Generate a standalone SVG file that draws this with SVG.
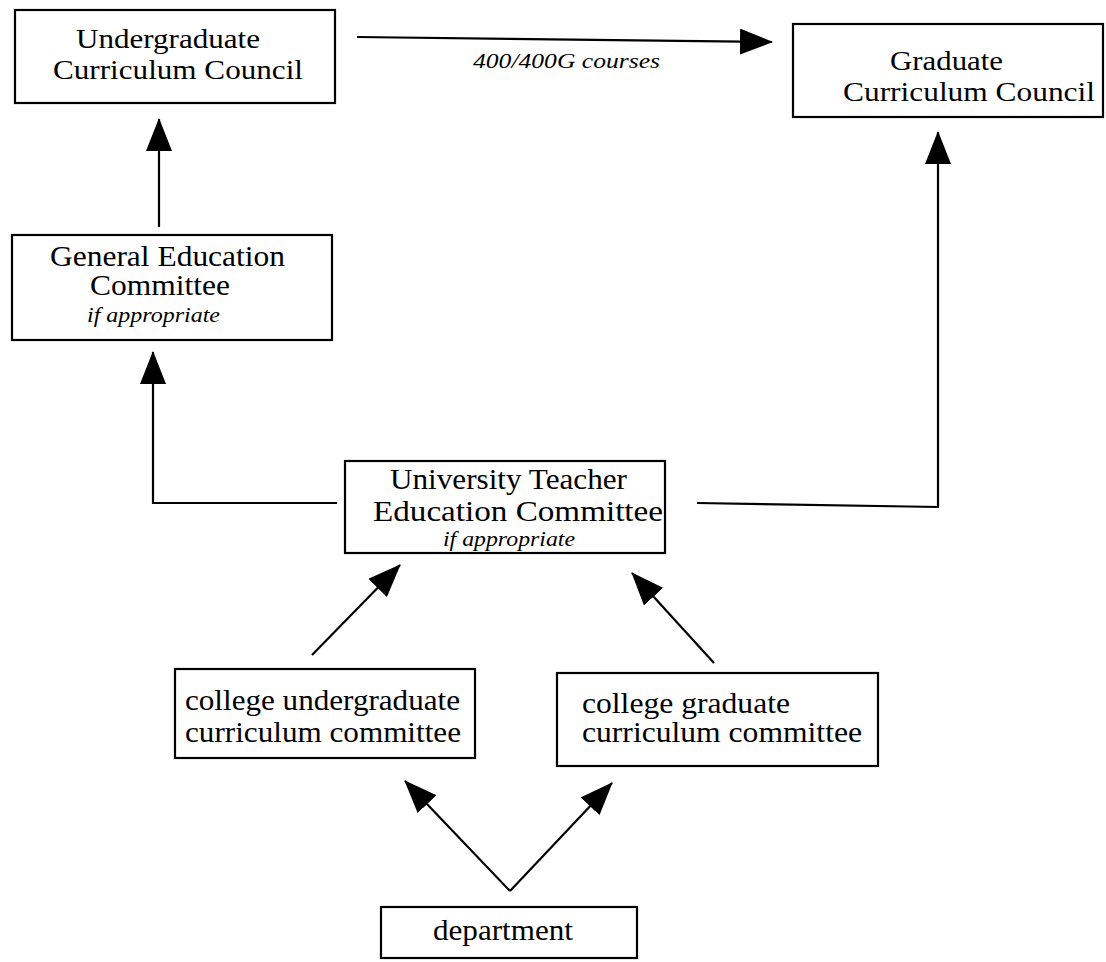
<svg xmlns="http://www.w3.org/2000/svg" width="1106" height="962" viewBox="0 0 1106 962">
<style>
.box{fill:#fff;stroke:#000;stroke-width:2.2}
.t{font-family:"Liberation Serif","Times New Roman",serif;font-size:29px;fill:#000}
.s{font-size:27px}
.i{font-family:"Liberation Serif","Times New Roman",serif;font-size:22px;font-style:italic;fill:#000}
.c{fill:none;stroke:#000;stroke-width:2.2}
</style>
<defs>
<marker id="ah" markerUnits="userSpaceOnUse" markerWidth="33" markerHeight="26" viewBox="0 0 33 26" refX="32" refY="13" orient="auto">
<path d="M0,0 L33,13 L0,26 z" fill="#000"/>
</marker>
</defs>
<rect width="1106" height="962" fill="#fff"/>
<g id="connectors">
<line class="c" x1="357" y1="37" x2="772" y2="42" marker-end="url(#ah)"/>
<text class="i" x="473" y="68" textLength="187" lengthAdjust="spacingAndGlyphs">400/400G courses</text>
<line class="c" x1="159" y1="227" x2="159" y2="119" marker-end="url(#ah)"/>
<polyline class="c" points="337,503 153,503 153,352" marker-end="url(#ah)"/>
<polyline class="c" points="697,503 938,507 938,132" marker-end="url(#ah)"/>
<line class="c" x1="312" y1="655" x2="400" y2="565" marker-end="url(#ah)"/>
<line class="c" x1="714" y1="663" x2="632" y2="573" marker-end="url(#ah)"/>
<line class="c" x1="510" y1="891" x2="405" y2="781" marker-end="url(#ah)"/>
<line class="c" x1="510" y1="891" x2="612" y2="783" marker-end="url(#ah)"/>
</g>
<g id="ucc">
<rect class="box" x="15" y="10" width="320" height="93"/>
<text class="t s" x="76" y="48" textLength="184" lengthAdjust="spacingAndGlyphs">Undergraduate</text>
<text class="t s" x="53" y="79" textLength="250" lengthAdjust="spacingAndGlyphs">Curriculum Council</text>
</g>
<g id="gcc">
<rect class="box" x="793" y="24" width="310" height="93"/>
<text class="t s" x="890" y="70" textLength="113" lengthAdjust="spacingAndGlyphs">Graduate</text>
<text class="t s" x="843" y="101" textLength="252" lengthAdjust="spacingAndGlyphs">Curriculum Council</text>
</g>
<g id="gec">
<rect class="box" x="12" y="235" width="320" height="105"/>
<text class="t" x="50" y="266" textLength="235" lengthAdjust="spacingAndGlyphs">General Education</text>
<text class="t" x="90" y="295" textLength="140" lengthAdjust="spacingAndGlyphs">Committee</text>
<text class="i" x="87" y="322" textLength="133" lengthAdjust="spacingAndGlyphs">if appropriate</text>
</g>
<g id="utec">
<rect class="box" x="345" y="461" width="320" height="92"/>
<text class="t" x="390" y="489" textLength="237" lengthAdjust="spacingAndGlyphs">University Teacher</text>
<text class="t" x="373" y="521" textLength="290" lengthAdjust="spacingAndGlyphs">Education Committee</text>
<text class="i" x="443" y="546" textLength="132" lengthAdjust="spacingAndGlyphs">if appropriate</text>
</g>
<g id="cucc">
<rect class="box" x="175" y="669" width="300" height="89"/>
<text class="t" x="185" y="710" textLength="275" lengthAdjust="spacingAndGlyphs">college undergraduate</text>
<text class="t" x="185" y="742" textLength="276" lengthAdjust="spacingAndGlyphs">curriculum committee</text>
</g>
<g id="cgcc">
<rect class="box" x="557" y="673" width="321" height="93"/>
<text class="t" x="582" y="713" textLength="208" lengthAdjust="spacingAndGlyphs">college graduate</text>
<text class="t" x="582" y="742" textLength="280" lengthAdjust="spacingAndGlyphs">curriculum committee</text>
</g>
<g id="department">
<rect class="box" x="381" y="907" width="256" height="51"/>
<text class="t" x="433" y="940" textLength="140" lengthAdjust="spacingAndGlyphs">department</text>
</g>
</svg>
